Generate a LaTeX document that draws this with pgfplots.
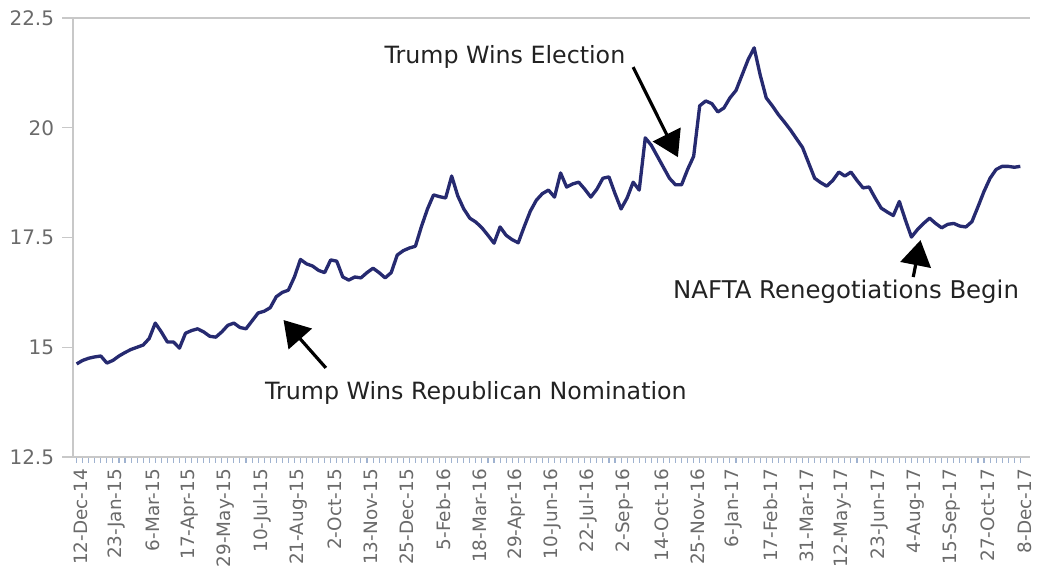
\documentclass[border=0pt]{standalone}
\usepackage{pgfplots}
\pgfplotsset{compat=1.18}
\usepackage{pgfplotstable}
\usepackage{fontspec}
\setmainfont{DejaVu Sans}
\usetikzlibrary{arrows.meta}
\definecolor{linec}{HTML}{262A70}
\definecolor{axc}{HTML}{C8C8C8}
\definecolor{tickc}{HTML}{9FB2D0}
\definecolor{labc}{HTML}{6A6A6A}
\definecolor{annc}{HTML}{222222}
\pgfplotstableread{
w v
0 14.62
1 14.70
2 14.75
3 14.78
4 14.80
5 14.64
6 14.70
7 14.80
8 14.88
9 14.95
10 15.00
11 15.05
12 15.20
13 15.55
14 15.35
15 15.12
16 15.12
17 14.98
18 15.32
19 15.38
20 15.42
21 15.35
22 15.25
23 15.23
24 15.35
25 15.50
26 15.55
27 15.45
28 15.42
29 15.60
30 15.78
31 15.82
32 15.90
33 16.15
34 16.25
35 16.30
36 16.60
37 17.00
38 16.90
39 16.85
40 16.75
41 16.70
42 16.99
43 16.96
44 16.60
45 16.53
46 16.60
47 16.58
48 16.70
49 16.80
50 16.70
51 16.58
52 16.70
53 17.10
54 17.20
55 17.26
56 17.30
57 17.75
58 18.15
59 18.47
60 18.43
61 18.40
62 18.90
63 18.45
64 18.15
65 17.94
66 17.85
67 17.72
68 17.55
69 17.37
70 17.74
71 17.55
72 17.45
73 17.38
74 17.75
75 18.10
76 18.35
77 18.50
78 18.58
79 18.42
80 18.97
81 18.65
82 18.72
83 18.76
84 18.60
85 18.42
86 18.60
87 18.85
88 18.88
89 18.50
90 18.15
91 18.40
92 18.76
93 18.58
94 19.77
95 19.60
96 19.35
97 19.10
98 18.85
99 18.70
100 18.70
101 19.05
102 19.35
103 20.50
104 20.61
105 20.55
106 20.36
107 20.45
108 20.68
109 20.85
110 21.20
111 21.55
112 21.82
113 21.20
114 20.68
115 20.50
116 20.30
117 20.13
118 19.95
119 19.75
120 19.55
121 19.20
122 18.85
123 18.75
124 18.67
125 18.80
126 18.99
127 18.90
128 18.99
129 18.80
130 18.63
131 18.65
132 18.40
133 18.17
134 18.08
135 18.00
136 18.32
137 17.90
138 17.51
139 17.68
140 17.82
141 17.94
142 17.82
143 17.72
144 17.80
145 17.82
146 17.76
147 17.74
148 17.86
149 18.20
150 18.55
151 18.85
152 19.05
153 19.12
154 19.12
155 19.10
156 19.12
}\datatable
\begin{document}
\begin{tikzpicture}
\path[use as bounding box] (-54.75pt,-92.25pt) rectangle (725.25pt,342.75pt);
\begin{axis}[
  at={(0,0)}, anchor=south west,
  scale only axis,
  width=717.75pt, height=329.25pt,
  xmin=-0.6, xmax=157.6,
  ymin=12.5, ymax=22.5,
  clip=false,
  axis lines=left,
  axis line style={-, draw=axc, line width=0.8pt},
  tick align=outside,
  xtick={0,6,...,156},
  xticklabels={12-Dec-14,23-Jan-15,6-Mar-15,17-Apr-15,29-May-15,10-Jul-15,21-Aug-15,2-Oct-15,13-Nov-15,25-Dec-15,5-Feb-16,18-Mar-16,29-Apr-16,10-Jun-16,22-Jul-16,2-Sep-16,14-Oct-16,25-Nov-16,6-Jan-17,17-Feb-17,31-Mar-17,12-May-17,23-Jun-17,4-Aug-17,15-Sep-17,27-Oct-17,8-Dec-17},
  x tick style={draw=none},
  minor xtick={0,1,...,156},
  minor x tick style={draw=tickc, line width=0.8pt},
  minor tick length=4.5pt,
  major tick length=8pt,
  ytick={12.5,15,17.5,20,22.5},
  y tick style={draw=axc, line width=0.8pt},
  x tick label style={rotate=90, anchor=east, font=\fontsize{13.8}{14}\selectfont, text=labc, inner sep=1pt, yshift=-3pt},
  y tick label style={font=\fontsize{15}{16}\selectfont, text=labc, inner sep=1pt, xshift=-5pt},
  /pgf/number format/assume math mode=true,
]
\draw[axc, line width=0.8pt] (rel axis cs:0,1) -- (rel axis cs:1,1);
\addplot[linec, line width=2.5pt, line join=round, mark=none] table[x=w, y=v] {\datatable};
\node[text=annc, font=\fontsize{17.8}{18}\selectfont] at (axis cs:70.8,21.61) {Trump Wins Election};
\node[text=annc, font=\fontsize{17.8}{18}\selectfont] at (axis cs:66.0,13.96) {Trump Wins Republican Nomination};
\node[text=annc, font=\fontsize{18.3}{19}\selectfont] at (axis cs:127.2,16.26) {NAFTA Renegotiations Begin};
\draw[black, line width=2.4pt, -{Triangle[length=19pt,width=23pt]}] (axis cs:92.0,21.38) -- (axis cs:99.4,19.33);
\draw[black, line width=2.4pt, -{Triangle[length=19pt,width=23pt]}] (axis cs:41.2,14.53) -- (axis cs:34.2,15.62);
\draw[black, line width=2.4pt, -{Triangle[length=19pt,width=23pt]}] (axis cs:138.3,16.60) -- (axis cs:139.5,17.44);
\end{axis}
\end{tikzpicture}
\end{document}
